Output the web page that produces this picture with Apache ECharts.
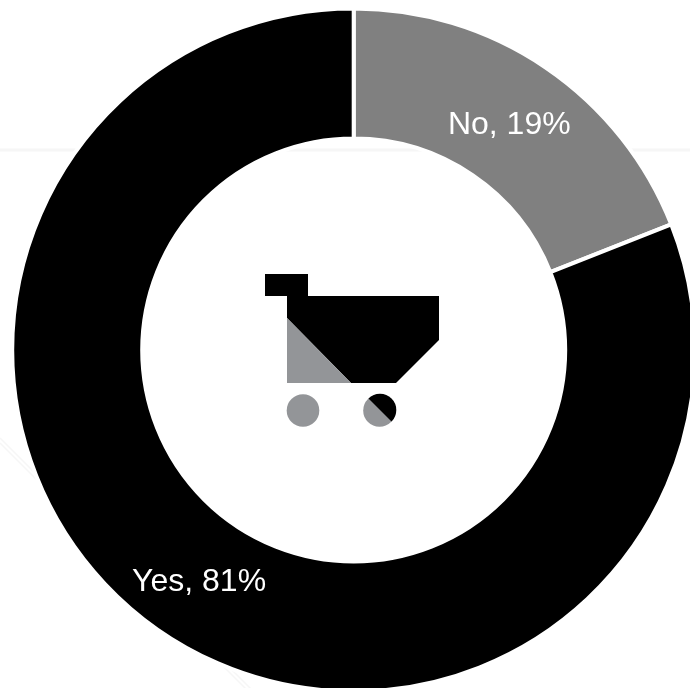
<!DOCTYPE html>
<html>
<head>
<meta charset="utf-8">
<style>html,body{margin:0;padding:0;background:#fff}#chart{width:690px;height:688px}</style>
<script src="https://cdn.jsdelivr.net/npm/echarts@6/dist/echarts.min.js"></script>
</head>
<body>
<div id="chart"></div>
<script>
// Survey answers, in percent
const categories = ['No', 'Yes'];
const shares = [19, 81];
const sliceColors = ['#808080', '#000000'];
const labelNudges = [[-1.5, 6.5], [2.5, 1.5]];

const cartBlack = '#000000';
const cartGray = '#939598';
const ruleColor = '#f6f6f6';

const chart = echarts.init(document.getElementById('chart'), null, { renderer: 'canvas' });

// Faint rules behind the ring
const rule = (x1, y1, x2, y2, w) => ({
  type: 'line', silent: true, z: 0,
  shape: { x1, y1, x2, y2 },
  style: { stroke: ruleColor, lineWidth: w }
});
const poly = (points, fill) => ({
  type: 'polygon', silent: true, z: 10,
  shape: { points },
  style: { fill }
});

chart.setOption({
  animation: false,
  backgroundColor: '#ffffff',
  graphic: [
    rule(0, 150, 690, 150, 3),
    rule(0, 438, 252, 690, 1.5),
    rule(0, 443, 247, 690, 1.5),
    // Shopping cart in the hole of the ring
    poly([[265, 274], [308, 274], [308, 296], [439, 296], [439, 340], [396, 383], [351, 383], [287, 318], [287, 296], [265, 296]], cartBlack),
    poly([[287, 318], [351, 383], [287, 383]], cartGray),
    { type: 'circle', silent: true, z: 10, shape: { cx: 303, cy: 410.5, r: 16.3 }, style: { fill: cartGray } },
    { type: 'circle', silent: true, z: 10, shape: { cx: 379.5, cy: 410.5, r: 16.3 }, style: { fill: cartGray } },
    {
      type: 'sector', silent: true, z: 11,
      shape: { cx: 380, cy: 410, r: 16.3, r0: 0, startAngle: -Math.PI * 0.75, endAngle: Math.PI * 0.25, clockwise: true },
      style: { fill: cartBlack }
    }
  ],
  series: [{
    type: 'pie',
    z: 2,
    center: [353.7, 350],
    radius: [211.5, 341.5],
    startAngle: 90,
    clockwise: true,
    silent: true,
    itemStyle: { borderColor: '#ffffff', borderWidth: 4 },
    label: {
      show: true,
      position: 'inside',
      formatter: '{b}, {c}%',
      color: '#ffffff',
      fontFamily: '"Liberation Sans", Arial, sans-serif',
      fontSize: 32
    },
    labelLine: { show: false },
    data: categories.map((name, i) => ({
      name,
      value: shares[i],
      itemStyle: { color: sliceColors[i] },
      label: { offset: labelNudges[i] }
    }))
  }]
});
</script>
</body>
</html>
